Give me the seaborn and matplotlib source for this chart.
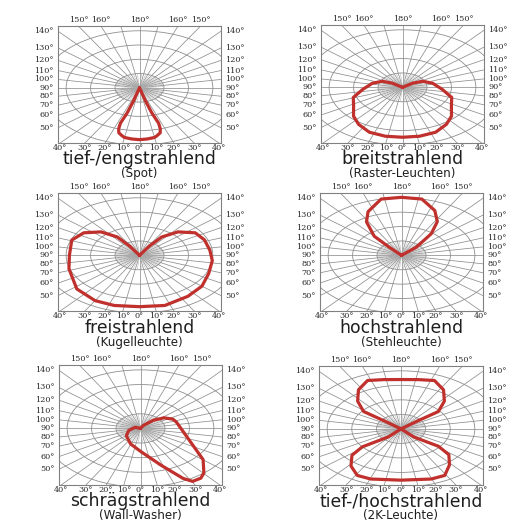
import numpy as np
import pandas as pd
import matplotlib
matplotlib.use("Agg")
import matplotlib.pyplot as plt
from matplotlib.patches import Circle
import seaborn as sns

sns.set_style("white")
plt.rcParams["font.family"] = ["DejaVu Sans"]

# ---------------- data (angle from nadir in degrees, signed; relative intensity) ----
spot_ang = [0, 15, 16, 17.5, 16.5, 15, 12, 10, 5, 0, -5, -10, -12, -15, -16.5, -17.5, -16, -15, 0]
spot_r = [0, 0.30, 0.55, 0.78, 0.90, 0.98, 1.03, 1.06, 1.08, 1.09, 1.08, 1.06, 1.03, 0.98, 0.90, 0.78, 0.55, 0.30, 0]

breit_ang = [0, 125, 117, 103, 85, 70.7, 57.7, 45, 35, 23.5, 11.6, 0,
             -11.6, -23.5, -35, -45, -57.7, -70.7, -85, -103, -117, -125, 0]
breit_r = [0, 0.15, 0.28, 0.38, 0.49, 0.64, 0.71, 0.85, 0.94, 1.02, 1.04, 1.04,
           1.04, 1.02, 0.94, 0.85, 0.71, 0.64, 0.49, 0.38, 0.28, 0.15, 0]

frei_ang = [0, 148, 144.6, 136, 124.5, 112, 97, 83, 65.9, 50, 34.8, 16.6, 0,
            -16.6, -30, -47.7, -72, -90, -111, -124.5, -136, -144.6, -148, 0]
frei_r = [0, 0.23, 0.47, 0.68, 0.83, 0.86, 0.87, 0.90, 0.93, 1.00, 1.04, 1.09, 1.07,
          1.09, 1.09, 1.04, 0.91, 0.86, 0.89, 0.83, 0.68, 0.47, 0.23, 0]

hoch_ang = [0, 133, 141, 148, 156.4, 168, 180, -168, -155.8, -148.4, -140, -138.6, 0]
hoch_r = [0, 0.25, 0.58, 0.83, 1.02, 1.20, 1.21, 1.20, 1.00, 0.82, 0.52, 0.23, 0]

schraeg_ang = [0, 150, 136.7, 127, 115.7, 106, 50.2, 40.4, 36, 30.5, 27, 18.3, 0,
               -21, -49, -74, -109, 0]
schraeg_r = [0, 0.07, 0.23, 0.36, 0.44, 0.46, 1.00, 1.20, 1.26, 1.26, 1.15, 0.79, 0.47,
             0.34, 0.23, 0.15, 0.07, 0]

zweik_ang = [0, 43, 51.8, 47.6, 38.5, 29, 19.6, 0, -19.6, -29, -38.5, -47.6, -51.8, -43, 0,
             129, 128.2, 137.3, 147.3, 157.8, 168.4, 180, -168.4, -157.8, -147.3, -137.3,
             -128.2, -129, 0]
zweik_r = [0, 0.23, 0.58, 0.79, 0.95, 1.10, 1.10, 1.06, 1.10, 1.10, 0.98, 0.81, 0.60, 0.23, 0,
           0.27, 0.58, 0.78, 0.96, 1.08, 1.04, 1.02, 1.04, 1.08, 0.96, 0.78, 0.58, 0.27, 0]

titles = ["tief-/engstrahlend", "breitstrahlend", "freistrahlend",
          "hochstrahlend", "schrägstrahlend", "tief-/hochstrahlend"]
subtitles = ["(Spot)", "(Raster-Leuchten)", "(Kugelleuchte)",
             "(Stehleuchte)", "(Wall-Washer)", "(2K-Leuchte)"]

side_angles = [50, 60, 70, 80, 90, 100, 110, 120, 130, 140]
top_angles = [-150, -160, 180, 160, 150]
bottom_angles = [-40, -30, -20, -10, 0, 10, 20, 30, 40]
rings = [0.3, 0.6, 0.9, 1.2]

curves = [(spot_ang, spot_r), (breit_ang, breit_r), (frei_ang, frei_r),
          (hoch_ang, hoch_r), (schraeg_ang, schraeg_r), (zweik_ang, zweik_r)]

# ---------------- layout ----------------
FW, FH = 531, 522
frames = [(58, 26, 221, 143), (321, 25, 484, 143),
          (58, 193, 221, 311), (320, 193, 483, 311),
          (59, 365, 222, 485), (319, 366, 483, 485)]
title_base = [164.5, 164.5, 333, 333, 506.5, 506.5]
sub_base = [177.5, 177.5, 346, 346, 519.5, 519.5]

XH, YTOP, YBOT = 1.0, 1.30, 1.16
GRID = "#8e8e8e"
RED = "#c0302c"
TXT = "#2a2a2a"
serif = dict(family=["DejaVu Serif"], size=5.9, color=TXT)

fig = plt.figure(figsize=(FW / 100, FH / 100), dpi=100)

for i, (x0, y0, x1, y1) in enumerate(frames):
    ax = fig.add_axes([x0 / FW, 1 - y1 / FH, (x1 - x0) / FW, (y1 - y0) / FH])
    ax.set_xlim(-XH, XH)
    ax.set_ylim(-YBOT, YTOP)
    ax.set_xticks([])
    ax.set_yticks([])
    for s in ax.spines.values():
        s.set_color("#808080")
        s.set_linewidth(0.8)

    # rings
    for r in rings:
        ax.add_patch(Circle((0, 0), r, fill=False, ec=GRID, lw=0.6, zorder=1))
    # radial lines every 10 deg, plus 5 deg within inner ring
    for a in range(0, 360, 10):
        t = np.deg2rad(a)
        ax.plot([0, 3 * np.sin(t)], [0, -3 * np.cos(t)], color=GRID, lw=0.55, zorder=1)
    for a in range(5, 360, 10):
        t = np.deg2rad(a)
        ax.plot([0, rings[0] * np.sin(t)], [0, -rings[0] * np.cos(t)],
                color="#b0b0b0", lw=0.35, zorder=1)

    ang, rr = curves[i]
    th = np.deg2rad(np.array(ang, dtype=float))
    rr = np.array(rr, dtype=float)
    df = pd.DataFrame({"x": rr * np.sin(th), "y": -rr * np.cos(th)})
    sns.lineplot(data=df, x="x", y="y", sort=False, estimator=None, color=RED,
                 lw=2.3, ax=ax, zorder=3)
    ax.set_xlabel("")
    ax.set_ylabel("")

    # side labels
    for a in side_angles:
        yv = -XH / np.tan(np.deg2rad(a))
        yv = min(max(yv, -YBOT), YTOP)
        lbl = f"{a}°"
        ax.annotate(lbl, xy=(-XH, yv), xytext=(-3, 0), textcoords="offset points",
                    ha="right", va="center", annotation_clip=False, **serif)
        ax.annotate(lbl, xy=(XH, yv), xytext=(3, 0), textcoords="offset points",
                    ha="left", va="center", annotation_clip=False, **serif)
    # top labels
    for a in top_angles:
        if a == 180:
            xv = 0.0
        else:
            xv = YTOP * np.tan(np.deg2rad(180 - abs(a))) * (1 if a > 0 else -1)
        ax.annotate(f"{abs(a)}°", xy=(xv, YTOP), xytext=(0, 4), textcoords="offset points",
                    ha="center", va="center", annotation_clip=False, **serif)
    # bottom labels
    for a in bottom_angles:
        xv = YBOT * np.tan(np.deg2rad(abs(a))) * (1 if a >= 0 else -1)
        xv = min(max(xv, -XH), XH)
        ax.annotate(f"{abs(a)}°", xy=(xv, -YBOT), xytext=(0, -3.6), textcoords="offset points",
                    ha="center", va="center", annotation_clip=False, **serif)

    cx = (x0 + x1) / 2 / FW
    fig.text(cx, 1 - title_base[i] / FH, titles[i], ha="center", va="baseline",
             fontsize=12.4, color="#1e1e1e")
    fig.text(cx, 1 - sub_base[i] / FH, subtitles[i], ha="center", va="baseline",
             fontsize=8.6, color="#1e1e1e")

fig.savefig("out.png", dpi=100, facecolor="white")
